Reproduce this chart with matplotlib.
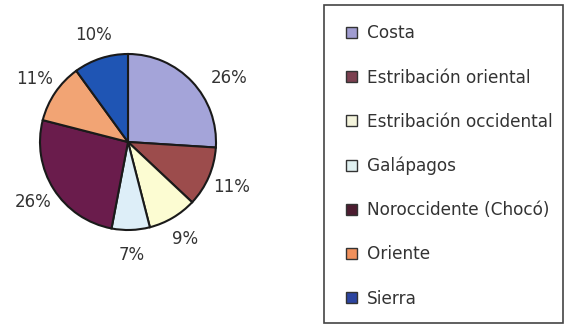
import matplotlib.pyplot as plt
from matplotlib.patches import Patch, Rectangle

regiones = ["Costa", "Estribación oriental", "Estribación occidental", "Galápagos",
            "Noroccidente (Chocó)", "Oriente", "Sierra"]
porcentajes = [26, 11, 9, 7, 26, 11, 10]
colores = ["#a4a4d9", "#9c4c4c", "#fcfcd2", "#ddeef8", "#6a1c4c", "#f2a474", "#1f55b4"]
colores_leyenda = ["#a09cd0", "#7c4050", "#f4f4dc", "#e0f0f0", "#4c1c30", "#f0905c", "#2c44a0"]

plt.rcParams["font.family"] = "sans-serif"
plt.rcParams["font.sans-serif"] = ["DejaVu Sans"]
fuente = ["DejaVu Sans"]
texto = "#333333"

fig = plt.figure(figsize=(5.64, 3.25), dpi=100)
W, H = 564, 325

# pie axes: centre (128, 142) px, radius 88 px
cx, cy, r = 128, 142, 88
ax = fig.add_axes([(cx - r) / W, (H - cy - r) / H, 2 * r / W, 2 * r / H])
wedges, _, autotexts = ax.pie(
    porcentajes, colors=colores, startangle=90, counterclock=False,
    autopct="%d%%", pctdistance=1.28,
    wedgeprops=dict(edgecolor="#1a1a1a", linewidth=1.5),
    textprops=dict(fontsize=12, color=texto, family=fuente))
ax.set_xlim(-1, 1)
ax.set_ylim(-1, 1)
ax.set_aspect("equal")

# first label sits a little lower and further out
x0, y0 = autotexts[0].get_position()
autotexts[0].set_position((x0 + 0.22, y0 - 0.15))

# legend box
fig.patches.append(Rectangle((324 / W, 1 - 323 / H), 239 / W, 318 / H,
                             transform=fig.transFigure, fill=False,
                             edgecolor="#444444", linewidth=1.2))

handles = [Patch(facecolor=c, edgecolor="#333333", linewidth=1.0) for c in colores_leyenda]
fig.legend(handles, regiones, loc="upper left", bbox_to_anchor=(338 / W, 1 - 16 / H),
           frameon=False, prop=dict(family=fuente, size=12.2), labelcolor=texto,
           handlelength=0.6, handleheight=0.6, handletextpad=0.6,
           labelspacing=1.54, borderpad=0)

fig.savefig("out.png", dpi=100, facecolor="white")
